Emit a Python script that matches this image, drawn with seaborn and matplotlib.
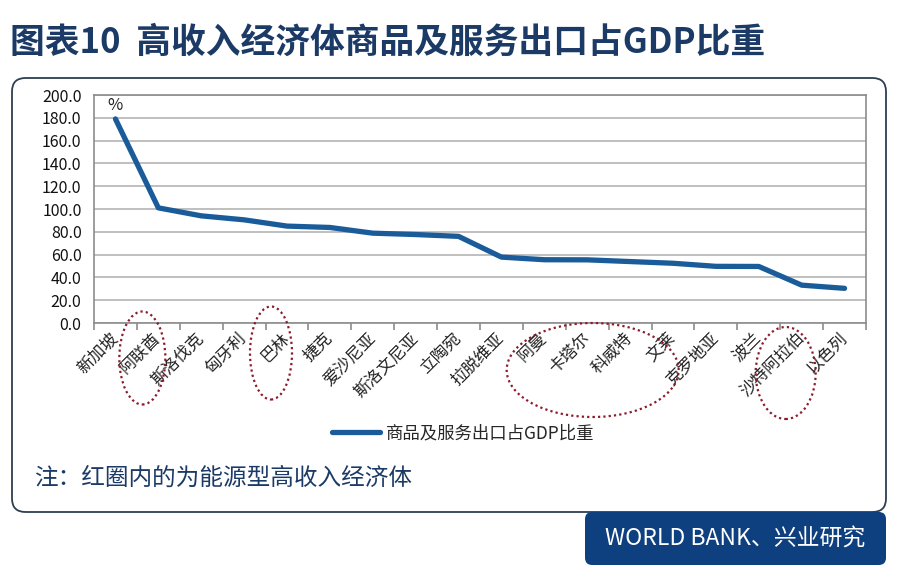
import matplotlib
matplotlib.use("Agg")
import matplotlib.pyplot as plt
import seaborn as sns
import pandas as pd
from matplotlib.patches import Ellipse, FancyBboxPatch
from matplotlib.transforms import IdentityTransform
from matplotlib.ticker import FormatStrFormatter

# ---------------- data ----------------
countries = ["新加坡", "阿联酋", "斯洛伐克", "匈牙利", "巴林", "捷克", "爱沙尼亚",
             "斯洛文尼亚", "立陶宛", "拉脱维亚", "阿曼", "卡塔尔", "科威特", "文莱",
             "克罗地亚", "波兰", "沙特阿拉伯", "以色列"]
export_share = [179.0, 101.0, 94.0, 90.5, 85.0, 83.8, 78.8, 77.6, 76.0, 57.8,
                55.5, 55.4, 53.9, 52.4, 49.7, 49.6, 33.2, 30.4]
series_name = "商品及服务出口占GDP比重"
y_ticks = [0, 20, 40, 60, 80, 100, 120, 140, 160, 180, 200]
# energy-type economies circled in red: (first, last, width px, height px, centre y px)
circled_groups = [("阿联酋", "阿联酋", 46, 93, 358),
                  ("巴林", "巴林", 42, 93, 353),
                  ("阿曼", "文莱", 172, 94, 370),
                  ("沙特阿拉伯", "沙特阿拉伯", 60, 92, 373)]

title = "图表10  高收入经济体商品及服务出口占GDP比重"
note = "注：红圈内的为能源型高收入经济体"
source = "WORLD BANK、兴业研究"

# ---------------- style ----------------
sns.set_theme(style="white")
plt.rcParams['font.family'] = ['Noto Sans CJK SC', 'DejaVu Sans']

W, H = 900, 577
fig = plt.figure(figsize=(W / 100, H / 100), dpi=100)
fig.patch.set_facecolor("white")

def fx(px):
    return px / W

def fy(py):
    return 1 - py / H

navy = "#1b3a66"
line_col = "#1a5c9a"

# outer rounded box
outer = FancyBboxPatch((fx(12), fy(512)), fx(874), (512 - 78) / H,
                       boxstyle="round,pad=0,rounding_size=0.015",
                       mutation_aspect=W / H,
                       transform=fig.transFigure, fill=False,
                       ec="#2e3f52", lw=1.3, zorder=1)
fig.add_artist(outer)

# footer box
footer = FancyBboxPatch((fx(585), fy(565)), fx(301), (565 - 512) / H,
                        boxstyle="round,pad=0,rounding_size=0.008",
                        mutation_aspect=W / H,
                        transform=fig.transFigure, fc="#0e3f7e", ec="none", zorder=2)
fig.add_artist(footer)
fig.text(fx(735), fy(539), source, color="white", fontsize=16.5,
         ha="center", va="center", zorder=3)

# title and note
fig.text(fx(10), fy(42), title, fontsize=25, color=navy, ha="left",
         va="center", weight="bold")
fig.text(fx(34), fy(478), note, fontsize=17, color=navy, ha="left", va="center")

# ---------------- chart ----------------
ax = fig.add_axes([fx(94), fy(323), (866 - 94) / W, (323 - 95) / H])
df = pd.DataFrame({"idx": range(len(countries)), "value": export_share,
                   "country": countries})
sns.lineplot(data=df, x="idx", y="value", ax=ax, color=line_col, lw=3.8,
             label=series_name, legend=False, solid_capstyle="round")

ax.set_xlim(-0.5, len(countries) - 0.5)
ax.set_ylim(y_ticks[0], y_ticks[-1])
ax.set_yticks(y_ticks)
ax.yaxis.set_major_formatter(FormatStrFormatter("%.1f"))
ax.grid(axis="y", color="#b4b4b4", lw=1.2)
ax.grid(axis="x", visible=False)
ax.set_axisbelow(True)
for s in ax.spines.values():
    s.set_color("#8c8c8c")
    s.set_linewidth(1.2)
ax.set_xlabel("")
ax.set_ylabel("")

ax.set_xticks(range(len(countries)))
ax.set_xticklabels(countries, rotation=45, ha="right", va="center",
                   rotation_mode="anchor", fontsize=12, color="#222222")
ax.set_xticks([i - 0.5 for i in range(len(countries) + 1)], minor=True)
ax.tick_params(axis="x", which="major", length=0, pad=9)
ax.tick_params(axis="x", which="minor", length=5, color="#8c8c8c", width=1.2,
               direction="out", bottom=True)
ax.tick_params(axis="y", length=0, pad=9, labelsize=11.5, labelcolor="#111111")

ax.text(0, 183, "%", ha="center", va="bottom", fontsize=12, color="#222222")

# legend
handles, labels = ax.get_legend_handles_labels()
fig.legend(handles, labels, loc="center", bbox_to_anchor=(fx(463), fy(433)),
           frameon=False, fontsize=12.5, handlelength=2.8, handletextpad=0.3)

# red dotted ellipses around energy economies
for first, last, w, h, cy in circled_groups:
    i0, i1 = countries.index(first), countries.index(last)
    cx = ax.transData.transform(((i0 + i1) / 2, 0))[0] - 16
    e = Ellipse((cx, H - cy), w, h, transform=IdentityTransform(), fill=False,
                ec="#8b1c2c", lw=1.6, ls=(0, (1, 1.4)), zorder=5)
    fig.add_artist(e)

fig.savefig("out.png", dpi=100, facecolor="white")
